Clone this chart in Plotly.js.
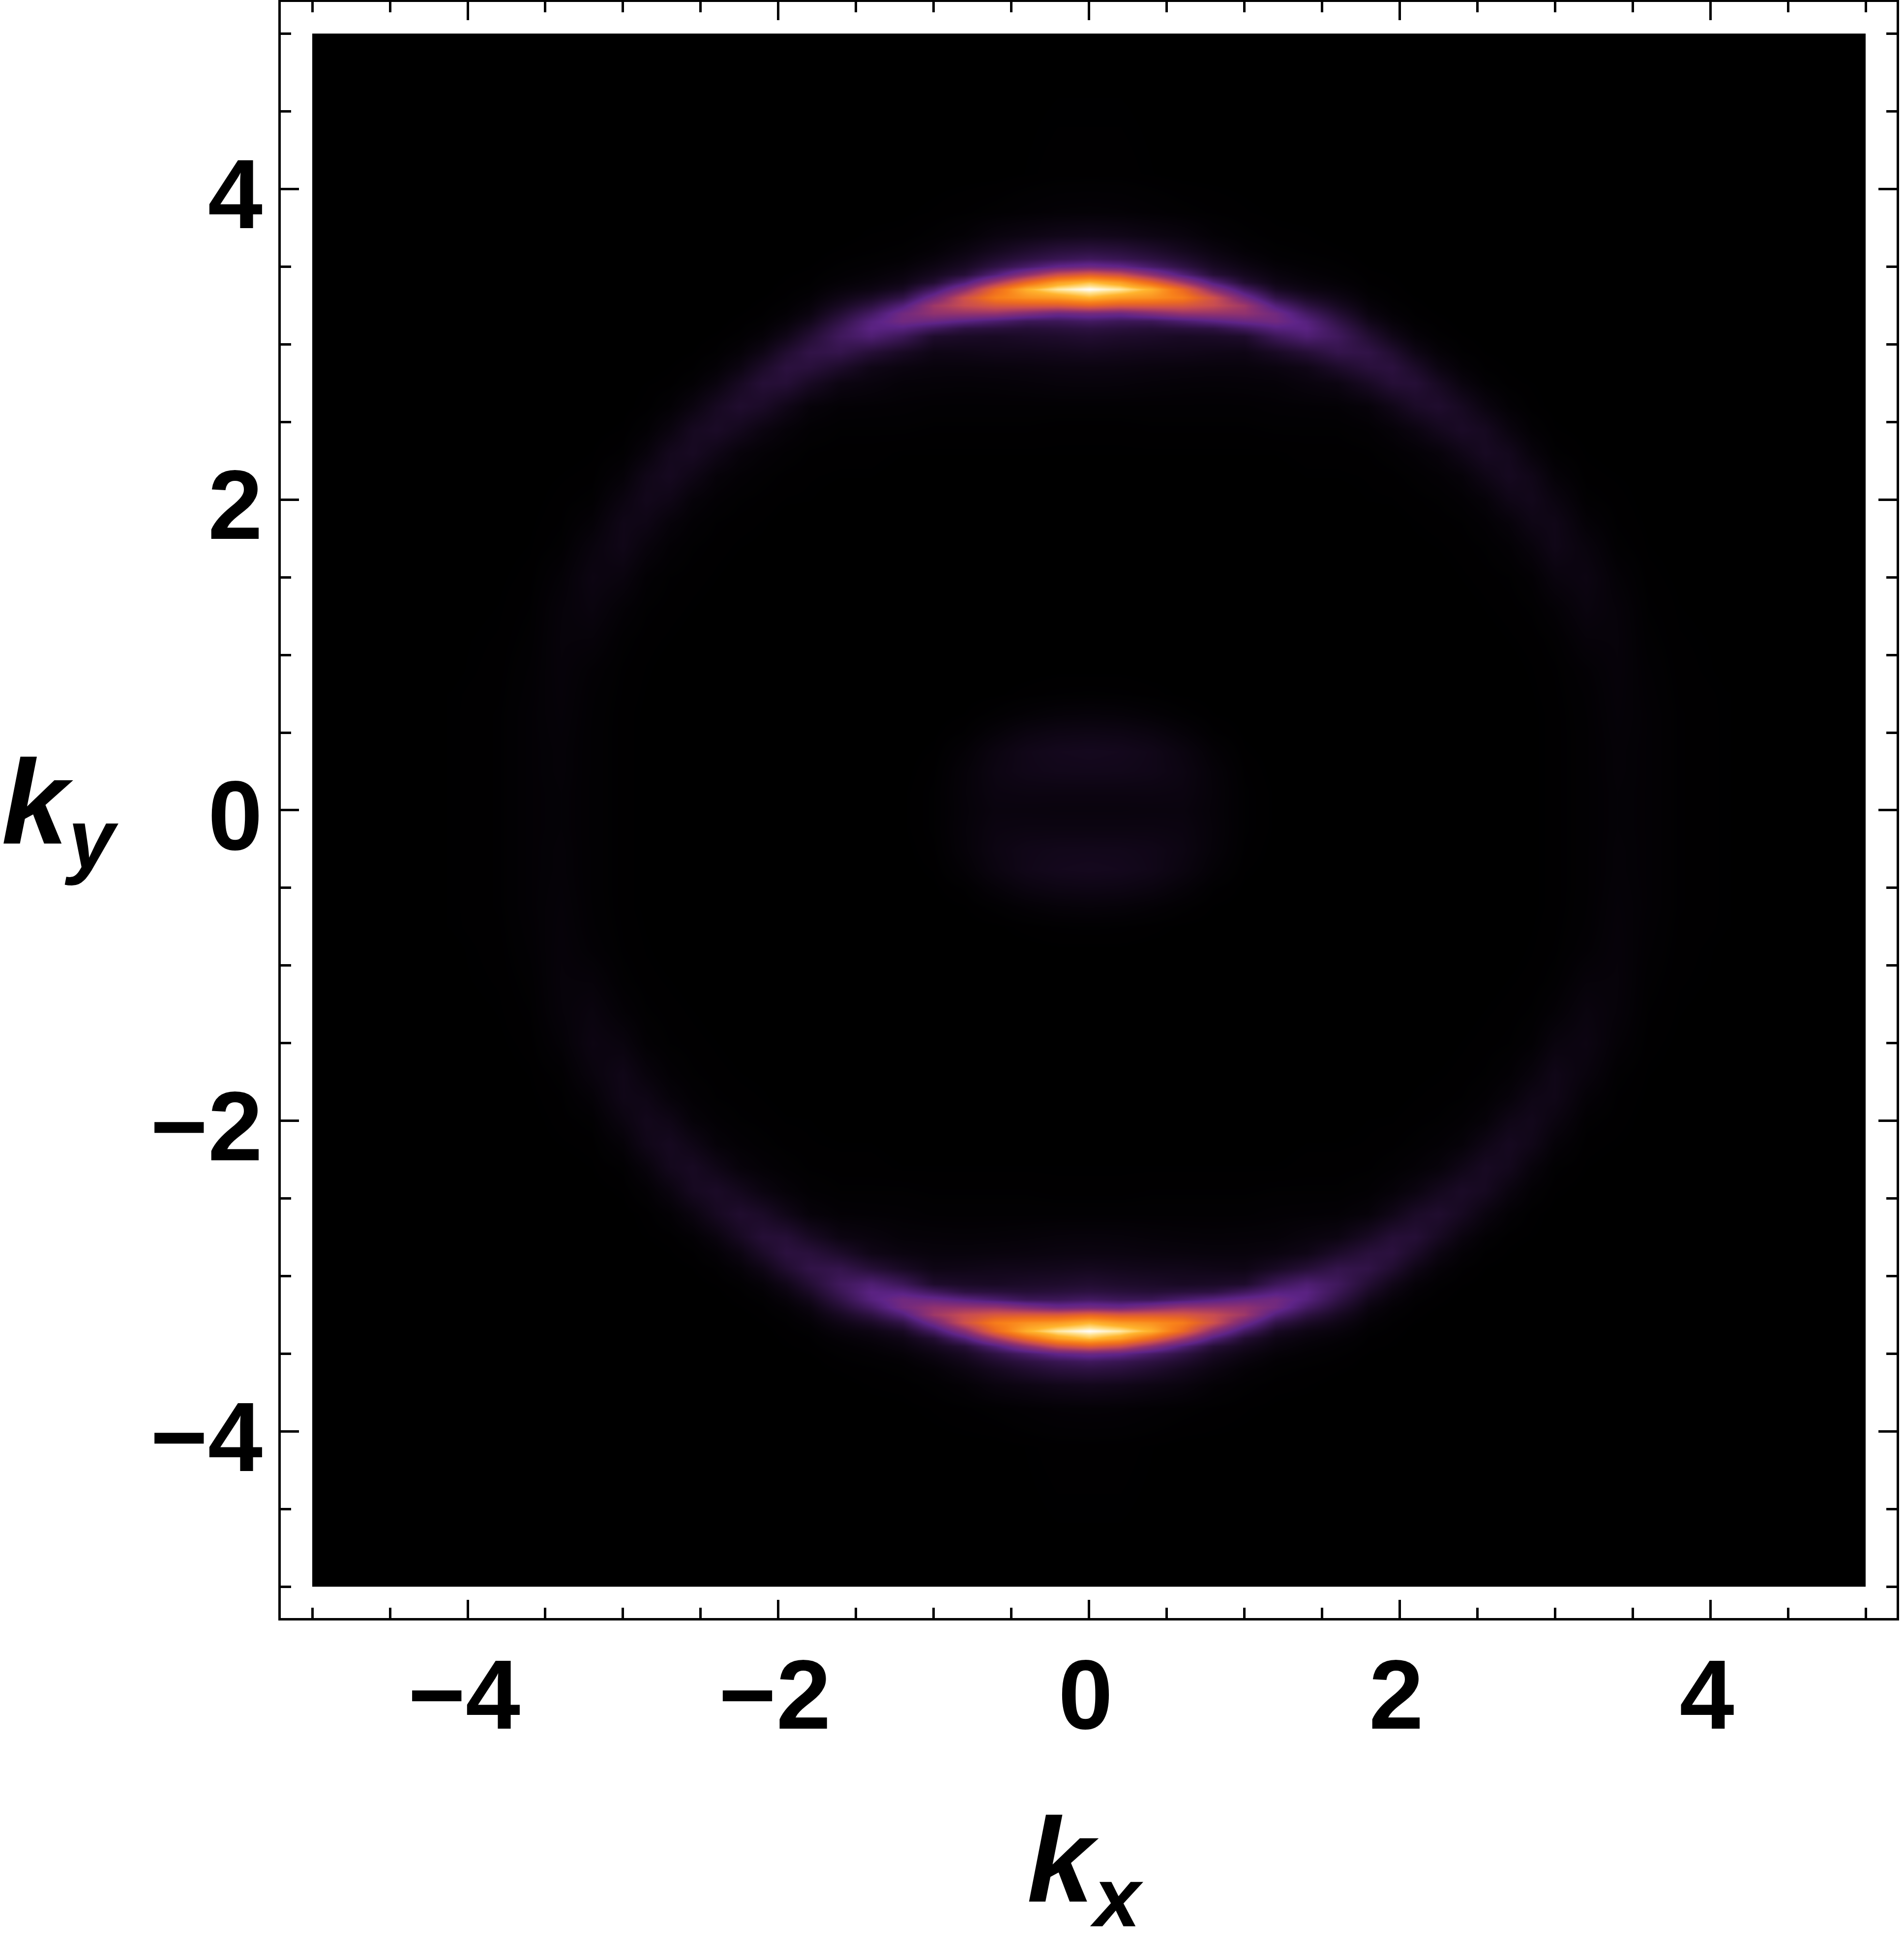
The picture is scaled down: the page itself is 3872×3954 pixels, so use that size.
<!DOCTYPE html>
<html>
<head>
<meta charset="utf-8">
<script src="https://cdn.plot.ly/plotly-3.0.1.min.js"></script>
<style>html,body{margin:0;padding:0;background:#fff}</style>
</head>
<body>
<div id="plot" style="width:3872px;height:3954px"></div>
<script>
//Nodes of the upper right quarter, the other quarters look like mirror images of it
var kxNodes = [0,0.2,0.4,0.6,0.8,1,1.2,1.4,1.6,1.8,1.95,2.1,2.25,2.4,2.55,2.7,2.85,3,3.2,3.4,3.6,3.8,4.1,4.5,4.999,5];
var kyNodes = [0,0.12,0.25,0.38,0.5,0.62,0.75,0.9,1.1,1.3,1.5,1.7,1.85,2,2.15,2.3,2.45,2.6,2.75,2.85,2.95,3.05,3.1,3.15,3.2,3.25,3.3,3.354,3.4,3.45,3.5,3.55,3.6,3.7,3.85,4.1,4.999,5];

//Intensity, one row per kyNodes entry, columns past the end of a row are 0
var intensityRows = [
  [2.5,2.5,2.6,2.6,1.6,0.4,0.05,0,0,0,0,0,0,0,0,0,0.05,0.2,0.6,1.2,0.9,0.3,0.1],
  [3.2,3.2,3.2,3,1.7,0.4,0.05,0,0,0,0,0,0,0,0,0,0.05,0.2,0.6,1.2,0.9,0.3,0.1],
  [4.8,4.7,4.3,3.3,1.6,0.3,0,0,0,0,0,0,0,0,0,0,0.05,0.2,0.6,1.3,0.9,0.3,0.1],
  [5.5,5.2,4.4,2.9,1.1,0.15,0,0,0,0,0,0,0,0,0,0,0.05,0.2,0.6,1.3,0.9,0.3,0.1],
  [3.8,3.6,2.9,1.6,0.4,0.05,0,0,0,0,0,0,0,0,0,0,0.05,0.2,0.6,1.4,0.9,0.3,0.1],
  [1.8,1.6,1.1,0.5,0.1,0,0,0,0,0,0,0,0,0,0,0,0.05,0.2,0.65,1.5,0.9,0.3,0.1],
  [0.4,0.35,0.2,0.05,0,0,0,0,0,0,0,0,0,0,0,0,0.08,0.25,0.7,1.6,0.8,0.25,0.1],
  [0.05,0.05,0,0,0,0,0,0,0,0,0,0,0,0,0,0,0.12,0.3,0.9,1.7,0.7,0.2,0.05],
  [0,0,0,0,0,0,0,0,0,0,0,0,0,0,0,0.1,0.2,0.5,1.7,1.8,0.5,0.15,0.05],
  [0,0,0,0,0,0,0,0,0,0,0,0,0,0,0.1,0.2,0.4,1.1,2.6,1.7,0.35,0.1],
  [0,0,0,0,0,0,0,0,0,0,0,0,0,0.1,0.2,0.35,0.8,2.5,3.2,1.2,0.2,0.05],
  [0,0,0,0,0,0,0,0,0,0,0,0.05,0.1,0.2,0.4,0.9,2.2,4.2,2.4,0.5,0.1],
  [0,0,0,0,0,0,0,0,0,0,0,0.12,0.2,0.35,0.8,1.8,3.8,4.2,1.3,0.3,0.05],
  [0,0,0,0,0,0,0,0,0,0.1,0.12,0.25,0.4,0.8,1.6,4,4.9,2.9,0.5,0.2],
  [0,0,0,0,0,0,0,0.1,0.1,0.15,0.25,0.5,0.9,1.6,3.9,5.8,4.3,1.4,0.2,0.1],
  [0.1,0.1,0.1,0.1,0.1,0.1,0.1,0.2,0.2,0.3,0.6,1.1,1.9,4.1,6.3,5.2,2.1,0.45,0.1],
  [0.2,0.2,0.3,0.3,0.3,0.3,0.4,0.4,0.4,0.7,1.5,2.9,5.2,7.1,5.9,2.7,0.8,0.15],
  [0.6,0.6,0.6,0.6,0.6,0.6,0.8,0.9,1,1.8,4.2,7.2,8.5,6,2.8,0.9,0.2],
  [2,1.9,1.6,1.4,1.3,1.4,1.5,2.4,3.2,6.6,10,10,6.2,2.6,0.8,0.2,0.1],
  [3,2.9,2.6,2.4,2.2,2.2,2.8,4,7.7,11,11.5,7.4,3.2,1.1,0.3,0.1],
  [5.5,5,4.6,4.5,4,3.8,6.5,10,14,13,8.8,3.9,1.4,0.4,0.1],
  [9,8,7.4,6.5,7,8,16,21,17,9.4,4.4,1.5,0.5,0.15],
  [12,11,10,11,12,17,23,24,15.6,7,2.9,0.9,0.3,0.05],
  [18,16,16,20,24,28,30,23,13,4.7,1.8,0.5,0.2],
  [31,29,34,39,39,38,30,18,9.5,2.8,1,0.3,0.1],
  [60,56,56,55,50,41,22,12,6.2,1.8,0.6,0.2],
  [85,78,75,69,52,30,13,7,3.8,1,0.35,0.1],
  [100,95,84,62,36,18,6.5,3.5,2.2,0.5,0.25],
  [87,79,62,42,22,9,3.8,2.2,1.2,0.3,0.15],
  [57,51,37,22,10,5.5,2.5,1.3,0.7,0.2,0.1],
  [29,26,19,12.5,6.5,3.5,1.5,0.8,0.45,0.1],
  [17,15,12,8.5,4.5,2.2,0.8,0.5,0.3],
  [12,11,8.5,5.6,3,1.2,0.5,0.3,0.15],
  [5,4.5,3.5,2.6,1.1,0.5,0.2,0.15],
  [1.2,1.1,0.8,0.5,0.3,0.15,0.05],
  [0.2,0.2,0.1],
  [0],
  [0]
];

var sunsetStops = [
  [0,"#000000"],[0.25,"#5e2488"],[0.38,"#91326f"],[0.5,"#c94d50"],
  [0.62,"#ec6a22"],[0.7,"#f8801a"],[0.85,"#ffb52e"],[0.93,"#ffe08a"],[1,"#ffffff"]
];

//Mirror the quarter into the whole square
function mirrored(list, flip) {
  var back = list.slice(1).reverse().map(flip);
  return back.concat(list);
}
var kx = mirrored(kxNodes, v => -v);
var ky = mirrored(kyNodes, v => -v);
var fullRows = intensityRows.map(row => {
  var padded = kxNodes.map((node, i) => row[i] || 0);
  return mirrored(padded, v => v);
});
var z = mirrored(fullRows, row => row);

var trace = {
  type: "heatmap",
  x: kx,
  y: ky,
  z: z,
  zmin: 0,
  zmax: 100,
  zsmooth: "best",
  colorscale: sunsetStops,
  showscale: false,
  hoverinfo: "skip"
};

function frameAxis(range, standoff, shift) {
  return {
    range: range,
    tick0: 0,
    dtick: 2,
    ticks: "inside",
    ticklen: 37,
    tickwidth: 5,
    tickcolor: "#000",
    minor: {tick0: 0, dtick: 0.5, ticks: "inside", ticklen: 21, tickwidth: 5, tickcolor: "#000"},
    showgrid: false,
    zeroline: false,
    showline: true,
    linewidth: 5,
    linecolor: "#000",
    mirror: "ticks",
    ticklabelstandoff: standoff,
    ticklabelshift: shift,
    tickfont: {family: "Liberation Sans", size: 200, color: "#000", weight: 700}
  };
}

var xaxis = frameAxis([-5.203, 5.199], -20, -7);
xaxis.title = {
  text: "k<sub>x</sub>&#8202;",
  standoff: 150,
  font: {family: "Liberation Sans", size: 244, color: "#000", weight: 700, style: "italic"}
};
var yaxis = frameAxis([-5.201, 5.204], -8, 10);

var layout = {
  width: 3872,
  height: 3954,
  margin: {l: 571, r: 15, t: 4, b: 663},
  paper_bgcolor: "#fff",
  plot_bgcolor: "#fff",
  showlegend: false,
  xaxis: xaxis,
  yaxis: yaxis,
  annotations: [{
    text: "k<sub>y</sub>",
    xref: "paper",
    yref: "paper",
    x: -0.1735,
    y: 0.5,
    xanchor: "left",
    yanchor: "middle",
    showarrow: false,
    font: {family: "Liberation Sans", size: 244, color: "#000", weight: 700, style: "italic"}
  }]
};

Plotly.newPlot("plot", [trace], layout, {displayModeBar: false, responsive: false});
</script>
</body>
</html>
